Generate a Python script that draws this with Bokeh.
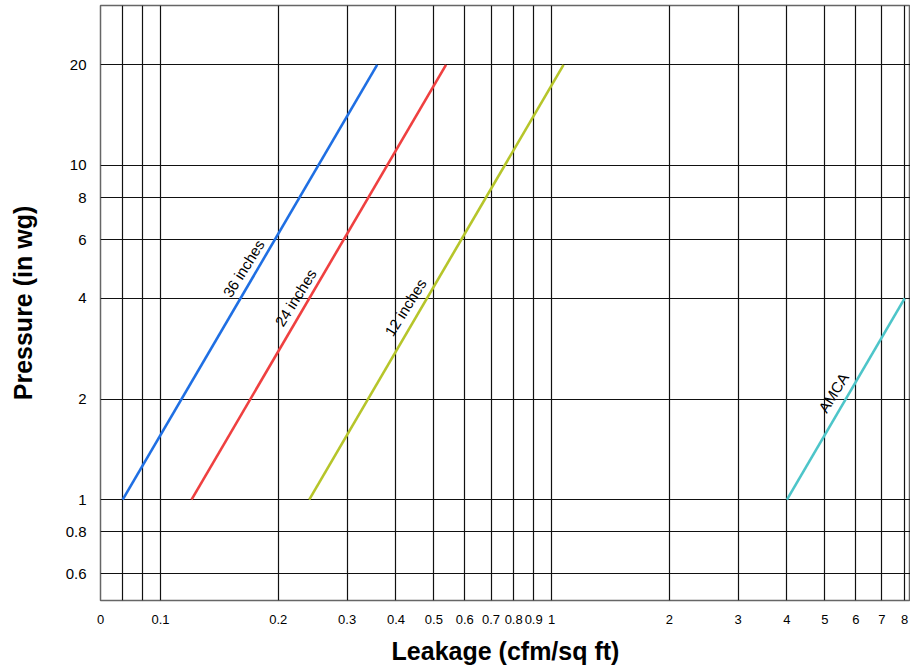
from bokeh.plotting import figure
from bokeh.models import FixedTicker, Range1d
from bokeh.core.properties import value
from bokeh.embed import file_html
from bokeh.resources import INLINE

# ---- data ----
pressure = [1, 20]
leak_36 = [0.08, 0.358]
leak_24 = [0.12, 0.537]
leak_12 = [0.24, 1.073]
amca_pressure = [1, 4]
amca_leak = [4, 8]

series_names = ["36 inches", "24 inches", "12 inches", "AMCA"]
series_colors = ["#1f6fe3", "#ef4040", "#b6c52a", "#4dc5c9"]

X_START = 0.0702
x_ticks = [X_START, 0.08, 0.09, 0.1, 0.2, 0.3, 0.4, 0.5, 0.6, 0.7, 0.8, 0.9, 1, 2, 3, 4, 5, 6, 7, 8]
x_tick_text = ["0", "", "", "0.1", "0.2", "0.3", "0.4", "0.5", "0.6", "0.7", "0.8", "0.9",
               "1", "2", "3", "4", "5", "6", "7", "8"]
y_ticks = [0.6, 0.8, 1, 2, 4, 6, 8, 10, 20]
y_tick_text = ["0.6", "0.8", "1", "2", "4", "6", "8", "10", "20"]

# label anchor positions (data coords) for the series names
label_x = [0.163, 0.2215, 0.423, 5.26]
label_y = [4.92, 4.02, 3.76, 2.09]

FONT = "Liberation Sans"

p = figure(width=910, height=671, x_axis_type="log", y_axis_type="log",
           x_range=Range1d(X_START, 8.28), y_range=Range1d(0.499, 30.1),
           output_backend="svg", toolbar_location=None,
           min_border_left=100, min_border_right=0, min_border_top=5, min_border_bottom=71)

p.background_fill_color = "white"
p.border_fill_color = "white"
p.outline_line_color = "#666666"
p.outline_line_width = 1.5

xt = FixedTicker(ticks=x_ticks, minor_ticks=[])
yt = FixedTicker(ticks=y_ticks, minor_ticks=[])
p.xaxis.ticker = xt
p.yaxis.ticker = yt
p.xgrid.ticker = FixedTicker(ticks=x_ticks[1:], minor_ticks=[])
p.ygrid.ticker = yt
for g in (p.xgrid, p.ygrid):
    g.grid_line_color = "#111111"
    g.grid_line_width = 1.2
    g.grid_line_alpha = 1

p.xaxis.major_label_overrides = dict(zip(x_ticks, x_tick_text))
p.yaxis.major_label_overrides = dict(zip(y_ticks, y_tick_text))

for ax in (p.xaxis, p.yaxis):
    ax.axis_line_color = None
    ax.major_tick_line_color = None
    ax.minor_tick_line_color = None
    ax.major_label_text_font = FONT
    ax.major_label_text_color = "black"
    ax.axis_label_text_font = FONT
    ax.axis_label_text_font_style = "bold"
    ax.axis_label_text_font_size = "25px"
    ax.axis_label_text_color = "black"

p.xaxis.major_label_text_font_size = "13px"
p.yaxis.major_label_text_font_size = "15px"
p.xaxis.major_label_standoff = 8
p.xaxis.axis_label_standoff = 10
p.yaxis.major_label_standoff = 8
p.yaxis.major_label_text_align = "right"
p.yaxis.axis_label_standoff = 26
p.xaxis.axis_label = "Leakage (cfm/sq ft)"
p.yaxis.axis_label = "Pressure (in wg)"

# series lines
xs_list = [leak_36, leak_24, leak_12, amca_leak]
ys_list = [pressure, pressure, pressure, amca_pressure]
for xs, ys, c in zip(xs_list, ys_list, series_colors):
    p.line(xs, ys, line_color=c, line_width=2.6)

# rotated series labels
p.text(x=label_x, y=label_y, text=series_names, angle=58, angle_units="deg",
       text_align="center", text_baseline="middle",
       text_font=value(FONT), text_font_size="15px", text_color="black")

open("out.html", "w").write(file_html(p, INLINE))
